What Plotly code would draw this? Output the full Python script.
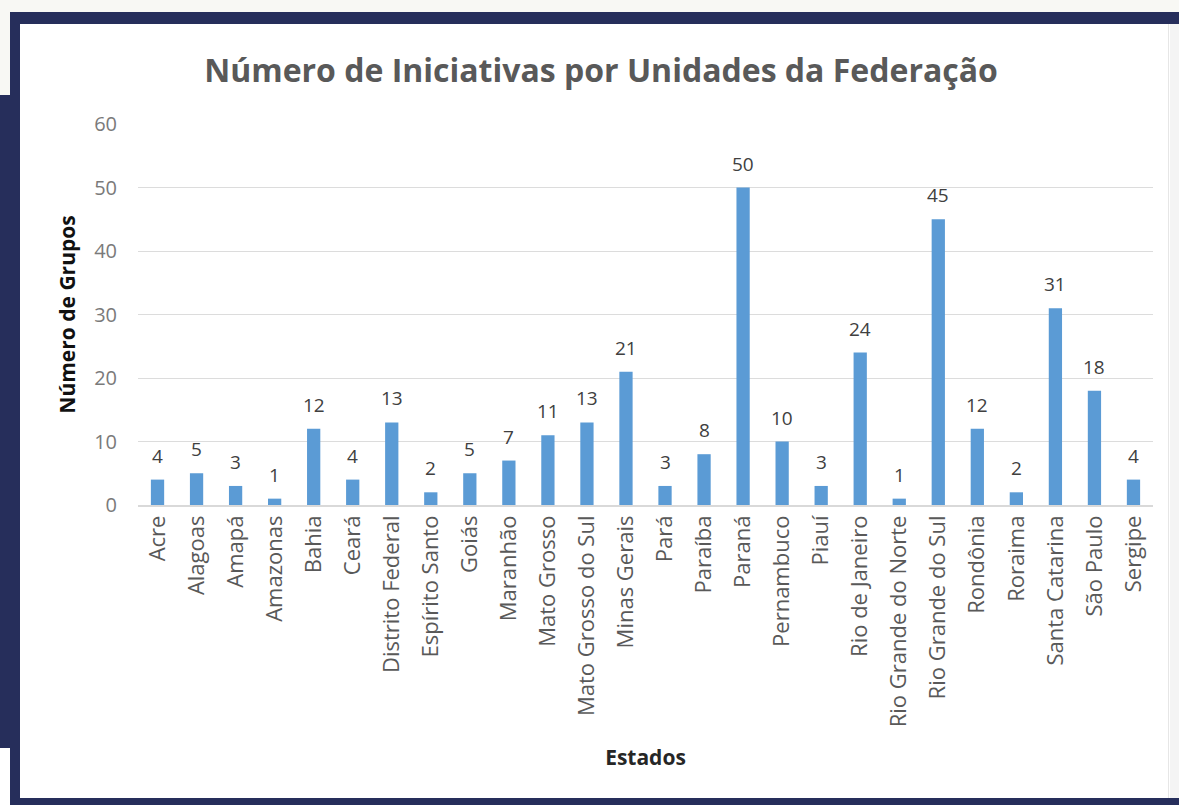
import plotly.graph_objects as go

estados = ["Acre", "Alagoas", "Amapá", "Amazonas", "Bahia", "Ceará", "Distrito Federal",
           "Espírito Santo", "Goiás", "Maranhão", "Mato Grosso", "Mato Grosso do Sul",
           "Minas Gerais", "Pará", "Paraíba", "Paraná", "Pernambuco", "Piauí",
           "Rio de Janeiro", "Rio Grande do Norte", "Rio Grande do Sul", "Rondônia",
           "Roraima", "Santa Catarina", "São Paulo", "Sergipe"]
grupos = [4, 5, 3, 1, 12, 4, 13, 2, 5, 7, 11, 13, 21, 3, 8, 50, 10, 3, 24, 1, 45, 12, 2, 31, 18, 4]
y_ticks = [0, 10, 20, 30, 40, 50, 60]

W, H = 1179, 805
L, R, T, B = 138, 1153, 124, 505
NAVY = "#262e5b"

def px(x):
    return (x - L) / (R - L)

def py(y):
    return (B - y) / (B - T)

fig = go.Figure(go.Bar(
    x=estados, y=grupos,
    marker=dict(color="#5b9bd5", line=dict(width=0)),
    cliponaxis=False,
))

annotations = [
    dict(x=e, y=g, xref="x", yref="y", text=str(g), showarrow=False,
         yanchor="bottom", yshift=9,
         font=dict(family="Open Sans", size=19, color="#404040"))
    for e, g in zip(estados, grupos)
]

shapes = []
def rect(x0, y0, x1, y1, color):
    shapes.append(dict(type="rect", xref="paper", yref="paper",
                       x0=px(x0), x1=px(x1), y0=py(y0), y1=py(y1),
                       fillcolor=color, line=dict(width=0), layer="below"))

rect(0, 0, W, 12, "#f8f8f4")
rect(0, 12, 10, 95, "#f8f8f4")
rect(10, 12, W, 24, NAVY)
rect(10, 12, 20, H, NAVY)
rect(0, 95, 20, 748, NAVY)
rect(10, 798, W, H, NAVY)
rect(1170, 24, W, 798, "#f4f4f4")
rect(1168, 24, 1169, 798, "#e6e6e6")

fig.update_layout(
    width=W, height=H,
    margin=dict(l=L, r=W - R, t=T, b=H - B, autoexpand=False),
    paper_bgcolor="white", plot_bgcolor="white",
    shapes=shapes,
    annotations=annotations,
    title=dict(text="Número de Iniciativas por Unidades da Federação",
               x=601 / W, xanchor="center", y=1 - 71 / H, yanchor="middle",
               font=dict(family="Open Sans", size=32, color="#595959", weight=700)),
    bargap=0.66,
    showlegend=False,
    xaxis=dict(
        tickangle=-90, tickfont=dict(family="Open Sans", size=22, color="#595959"),
        showline=True, linecolor="#d9d9d9", linewidth=1.5, ticks="",
        title=dict(text="Estados", font=dict(family="Open Sans", size=21, color="#262626", weight=700),
                   standoff=24),
        automargin=False,
    ),
    yaxis=dict(
        range=[0, 60], tickvals=y_ticks, showgrid=True, gridcolor="#dcdcdc", gridwidth=1.3,
        zeroline=False, ticks="", ticklabelstandoff=20,
        tickfont=dict(family="Open Sans", size=20, color="#7a7a7a"),
        title=dict(text="Número de Grupos", font=dict(family="Open Sans", size=21, color="#111111", weight=700),
                   standoff=12),
        automargin=False,
    ),
)

fig.write_html("out.html", config={"displayModeBar": False},
               post_script="document.body.style.margin='0';document.body.style.overflow='hidden';")
